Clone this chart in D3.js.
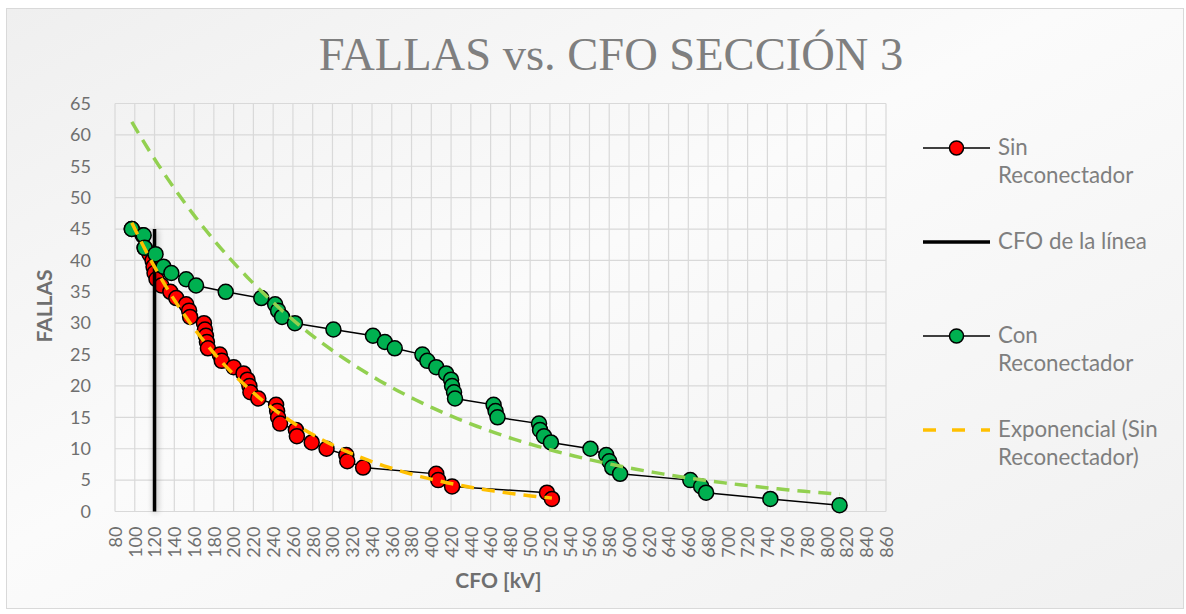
<!DOCTYPE html>
<html>
<head>
<meta charset="utf-8">
<script src="https://cdn.jsdelivr.net/npm/d3@7"></script>
<style>
  body { margin: 0; background: #fff; }
  svg { display: block; }
</style>
</head>
<body>
<svg id="chart" width="1186" height="614" font-family="Lato, 'Open Sans', sans-serif"></svg>
<script>
// Sin Reconectador (red)
var sinX = [97, 108, 110, 115, 118, 119, 120, 122, 127, 136, 142, 152, 155, 156, 170, 171, 172, 173, 174, 186, 188, 200, 210, 214, 216, 217, 225, 243, 244, 245, 247, 263, 264, 279, 294, 314, 315, 331, 405, 407, 421, 517, 522];
var sinY = [45, 44, 42, 41, 40, 39, 38, 37, 36, 35, 34, 33, 32, 31, 30, 29, 28, 27, 26, 25, 24, 23, 22, 21, 20, 19, 18, 17, 16, 15, 14, 13, 12, 11, 10, 9, 8, 7, 6, 5, 4, 3, 2];

// Con Reconectador (green)
var conX = [97, 109, 110, 121, 129, 137, 152, 162, 192, 228, 242, 245, 249, 262, 301, 341, 353, 363, 391, 396, 405, 415, 420, 421, 423, 424, 463, 465, 467, 509, 510, 514, 521, 561, 577, 580, 583, 591, 662, 673, 678, 743, 813];
var conY = [45, 44, 42, 41, 39, 38, 37, 36, 35, 34, 33, 32, 31, 30, 29, 28, 27, 26, 25, 24, 23, 22, 21, 20, 19, 18, 17, 16, 15, 14, 13, 12, 11, 10, 9, 8, 7, 6, 5, 4, 3, 2, 1];

// CFO de la linea
var cfoX = [120, 120];
var cfoY = [0, 45];

var xTicks = d3.range(80, 861, 20);
var yTicks = d3.range(0, 66, 5);

var margin = {top: 103.5, left: 115, right: 300, bottom: 102.5},
    width  = 1186 - margin.left - margin.right,
    height = 614 - margin.top - margin.bottom;

var x = d3.scaleLinear().domain([80, 860]).range([0, width]),
    y = d3.scaleLinear().domain([0, 65]).range([height, 0]);

var svg = d3.select("#chart");
var defs = svg.append("defs");

var grad = defs.append("linearGradient").attr("id", "bg")
  .attr("x1", "0%").attr("y1", "0%").attr("x2", "100%").attr("y2", "100%");
grad.append("stop").attr("offset", "0%").attr("stop-color", "#efefef");
grad.append("stop").attr("offset", "45%").attr("stop-color", "#fbfbfb");
grad.append("stop").attr("offset", "100%").attr("stop-color", "#f0f0f0");

// soft shadow for the CFO line (user space, the line has no width)
var shadow = defs.append("filter").attr("id", "shadow")
  .attr("filterUnits", "userSpaceOnUse")
  .attr("x", 0).attr("y", 0).attr("width", 1186).attr("height", 614);
shadow.append("feGaussianBlur").attr("in", "SourceAlpha").attr("stdDeviation", 3).attr("result", "blur");
shadow.append("feOffset").attr("in", "blur").attr("dx", 1).attr("dy", 1).attr("result", "off");
shadow.append("feComponentTransfer").attr("in", "off").attr("result", "soft")
  .append("feFuncA").attr("type", "linear").attr("slope", 0.35);
var merge = shadow.append("feMerge");
merge.append("feMergeNode").attr("in", "soft");
merge.append("feMergeNode").attr("in", "SourceGraphic");

// chart area
svg.append("rect")
  .attr("x", 6.5).attr("y", 8.5).attr("width", 1177).attr("height", 600)
  .attr("fill", "url(#bg)").attr("stroke", "#d9d9d9");

var g = svg.append("g").attr("transform", "translate(" + margin.left + "," + margin.top + ")");

// gridlines
g.selectAll(".vGrid").data(xTicks).enter().append("line")
  .attr("x1", d => x(d)).attr("x2", d => x(d))
  .attr("y1", 0).attr("y2", height)
  .attr("stroke", "#d9d9d9").attr("stroke-width", 1.2);

g.selectAll(".hGrid").data(yTicks).enter().append("line")
  .attr("x1", 0).attr("x2", width)
  .attr("y1", d => y(d)).attr("y2", d => y(d))
  .attr("stroke", "#d9d9d9").attr("stroke-width", 1.2);

// axes
var yAxis = g.append("g")
  .call(d3.axisLeft(y).tickValues(yTicks).tickSize(0).tickPadding(24));
yAxis.select(".domain").remove();
yAxis.selectAll("text").attr("font-size", 18).attr("fill", "#6f6f6f").attr("font-family", "Lato, sans-serif");

var xAxis = g.append("g").attr("transform", "translate(0," + height + ")")
  .call(d3.axisBottom(x).tickValues(xTicks).tickSize(0));
xAxis.select(".domain").remove();
xAxis.selectAll("text")
  .attr("font-size", 18).attr("fill", "#6f6f6f").attr("font-family", "Lato, sans-serif")
  .attr("transform", "rotate(-90)")
  .attr("text-anchor", "end")
  .attr("x", -15).attr("y", 0).attr("dy", "0.35em");

// exponential trendline, least squares on ln(y)
function expFit(xs, ys) {
  var n = xs.length, sx = 0, sy = 0, sxx = 0, sxy = 0;
  for (var i = 0; i < n; i++) {
    var ly = Math.log(ys[i]);
    sx += xs[i]; sy += ly; sxx += xs[i] * xs[i]; sxy += xs[i] * ly;
  }
  var b = (n * sxy - sx * sy) / (n * sxx - sx * sx);
  var a = Math.exp((sy - b * sx) / n);
  return function(v) { return a * Math.exp(b * v); };
}

function trendPoints(xs, ys) {
  var f = expFit(xs, ys);
  var ext = d3.extent(xs);
  return d3.range(ext[0], ext[1] + 0.01, (ext[1] - ext[0]) / 80).map(v => [v, f(v)]);
}

var curve = d3.line().x(d => x(d[0])).y(d => y(d[1]));

var sinPts = sinX.map((v, i) => [v, sinY[i]]);
var conPts = conX.map((v, i) => [v, conY[i]]);

// red series
g.append("path").datum(sinPts)
  .attr("fill", "none").attr("stroke", "#000").attr("stroke-width", 1.5)
  .attr("d", curve);
g.selectAll(".sinDot").data(sinPts).enter().append("circle")
  .attr("cx", d => x(d[0])).attr("cy", d => y(d[1])).attr("r", 7.5)
  .attr("fill", "#ff0000").attr("stroke", "#000").attr("stroke-width", 1.5);

// CFO line
g.append("path").datum(cfoX.map((v, i) => [v, cfoY[i]]))
  .attr("fill", "none").attr("stroke", "#000").attr("stroke-width", 3.5)
  .attr("filter", "url(#shadow)")
  .attr("d", curve);

// green series
g.append("path").datum(conPts)
  .attr("fill", "none").attr("stroke", "#000").attr("stroke-width", 1.5)
  .attr("d", curve);
g.selectAll(".conDot").data(conPts).enter().append("circle")
  .attr("cx", d => x(d[0])).attr("cy", d => y(d[1])).attr("r", 7.5)
  .attr("fill", "#00b050").attr("stroke", "#000").attr("stroke-width", 1.5);

// trendlines
g.append("path").datum(trendPoints(sinX, sinY))
  .attr("fill", "none").attr("stroke", "#ffc000").attr("stroke-width", 3.5)
  .attr("stroke-dasharray", "13,8")
  .attr("d", curve);
g.append("path").datum(trendPoints(conX, conY))
  .attr("fill", "none").attr("stroke", "#92d050").attr("stroke-width", 3.5)
  .attr("stroke-dasharray", "13,8")
  .attr("d", curve);

// titles
svg.append("text")
  .attr("x", 611).attr("y", 70)
  .attr("text-anchor", "middle")
  .attr("font-family", "'Liberation Serif', 'DejaVu Serif', serif")
  .attr("font-size", 46.5).attr("fill", "#7f7f7f")
  .text("FALLAS vs. CFO SECCIÓN 3");

svg.append("text")
  .attr("transform", "translate(52,306) rotate(-90)")
  .attr("text-anchor", "middle")
  .attr("font-size", 21).attr("font-weight", "bold").attr("fill", "#6f6f6f")
  .text("FALLAS");

svg.append("text")
  .attr("x", margin.left + width / 2 - 2).attr("y", 588)
  .attr("text-anchor", "middle")
  .attr("font-size", 21).attr("font-weight", "bold").attr("fill", "#6f6f6f")
  .text("CFO [kV]");

// legend
var legend = [
  {type: "red", y: 148, lines: ["Sin", "Reconectador"]},
  {type: "cfo", y: 242, lines: ["CFO de la línea"]},
  {type: "green", y: 336, lines: ["Con", "Reconectador"]},
  {type: "trend", y: 430, lines: ["Exponencial (Sin", "Reconectador)"]}
];

var lg = svg.append("g");
legend.forEach(function(d) {
  if (d.type == "red" || d.type == "green") {
    lg.append("line").attr("x1", 923).attr("x2", 990).attr("y1", d.y).attr("y2", d.y)
      .attr("stroke", "#000").attr("stroke-width", 1.5);
    lg.append("circle").attr("cx", 956.5).attr("cy", d.y).attr("r", 7)
      .attr("fill", d.type == "red" ? "#ff0000" : "#00b050").attr("stroke", "#000").attr("stroke-width", 1.5);
  } else if (d.type == "cfo") {
    lg.append("line").attr("x1", 923).attr("x2", 990).attr("y1", d.y).attr("y2", d.y)
      .attr("stroke", "#000").attr("stroke-width", 3.5);
  } else {
    lg.append("line").attr("x1", 923).attr("x2", 990).attr("y1", d.y).attr("y2", d.y)
      .attr("stroke", "#ffc000").attr("stroke-width", 3.5).attr("stroke-dasharray", "13,16");
  }
  d.lines.forEach(function(t, i) {
    lg.append("text").attr("x", 998).attr("y", d.y + 7 + i * 28)
      .attr("font-size", 22.3).attr("fill", "#7f7f7f")
      .text(t);
  });
});
</script>
</body>
</html>
